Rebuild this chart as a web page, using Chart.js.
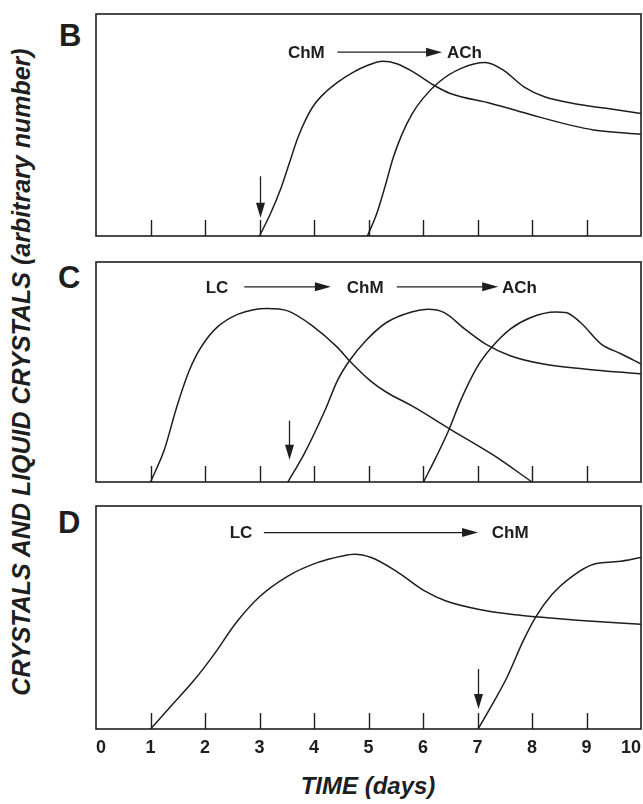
<!DOCTYPE html>
<html>
<head>
<meta charset="utf-8">
<title>Crystals and liquid crystals vs time</title>
<script src="https://cdn.jsdelivr.net/npm/chart.js@4.4.0/dist/chart.umd.min.js"></script>
<style>
  html, body { margin: 0; padding: 0; background: #fff; }
  body {
    width: 643px; height: 804px; position: relative; overflow: hidden;
    font-family: "Liberation Sans", Arial, sans-serif; color: #1e1e1e;
  }
  canvas { position: absolute; }
  .panel-label { position: absolute; font-weight: bold; font-size: 31px; line-height: 31px; }
  .y-title {
    position: absolute; left: 21px; top: 372px; white-space: nowrap;
    transform: translate(-50%, -50%) rotate(-90deg);
    font-weight: bold; font-style: italic; font-size: 25px;
  }
  .x-title {
    position: absolute; left: 368px; top: 786px; white-space: nowrap;
    transform: translate(-50%, -50%);
    font-weight: bold; font-style: italic; font-size: 24px;
  }
</style>
</head>
<body>
<div class="y-title">CRYSTALS AND LIQUID CRYSTALS (arbitrary number)</div>
<div class="panel-label" style="left:59px; top:20px;">B</div>
<div class="panel-label" style="left:58px; top:262px;">C</div>
<div class="panel-label" style="left:58px; top:507px;">D</div>
<canvas id="panelB" width="549" height="226" style="left:94px; top:12px;"></canvas>
<canvas id="panelC" width="549" height="224" style="left:94px; top:260px;"></canvas>
<canvas id="panelD" width="549" height="265" style="left:94px; top:504px;"></canvas>
<div class="x-title">TIME (days)</div>
<script>
// x axis
const dayTicks = [0, 1, 2, 3, 4, 5, 6, 7, 8, 9, 10];
const innerTicks = [1, 2, 3, 4, 5, 6, 7, 8, 9];

// Panel B: ChM -> ACh
const dayB_ChM = [3.0, 3.2, 3.4, 3.55, 3.7, 3.85, 4.0, 4.2, 4.45, 4.7, 5.0, 5.26, 5.52, 5.82, 6.2, 6.5, 7.25, 8.0, 8.76, 9.13, 10];
const valB_ChM = [0, 10, 22, 33, 44, 52.5, 59, 64.5, 69.5, 73.5, 77, 78.7, 77.6, 73.9, 67.9, 64.2, 59.7, 54.5, 49.6, 47.8, 45.8];
const dayB_ACh = [4.98, 5.15, 5.3, 5.45, 5.6, 5.8, 6.0, 6.3, 6.7, 7.14, 7.48, 7.85, 8.23, 8.76, 9.36, 10];
const valB_ACh = [0, 10, 22, 35, 45, 55, 62, 69.5, 75.5, 78.1, 74.6, 67.2, 62.7, 59.7, 57.5, 55.2];

// Panel C: LC -> ChM -> ACh
const dayC_LC = [1.0, 1.25, 1.48, 1.7, 1.85, 2.0, 2.23, 2.61, 3.14, 3.52, 3.97, 4.43, 4.65, 5.03, 5.33, 5.79, 6.54, 7.3, 8.0];
const valC_LC = [0, 14.4, 34.0, 50, 58, 64, 70.5, 76.3, 78.9, 77.8, 71.0, 61.2, 55.1, 46.1, 40.8, 34.7, 23.4, 12.1, 0];
const dayC_ChM = [3.52, 3.82, 4.2, 4.43, 4.65, 4.95, 5.33, 5.79, 6.09, 6.39, 6.77, 7.15, 7.6, 8.21, 8.96, 10];
const valC_ChM = [0, 12.8, 32.5, 46.1, 55.1, 64.2, 72.5, 77.3, 78.5, 77.0, 69.5, 62.7, 57.4, 53.6, 51.4, 49.1];
const dayC_ACh = [6.01, 6.24, 6.47, 6.69, 6.99, 7.26, 7.6, 7.98, 8.43, 8.62, 8.89, 9.27, 9.64, 10];
const valC_ACh = [0, 11.3, 23.4, 37.0, 52.1, 61.2, 69.5, 74.8, 77.3, 77.0, 72.5, 62.7, 58.2, 53.6];

// Panel D: LC -> ChM
const dayD_LC = [1.0, 1.41, 1.79, 2.17, 2.55, 3.0, 3.53, 4.06, 4.52, 4.74, 5.05, 5.5, 6.03, 6.41, 7.01, 7.69, 8.07, 8.83, 10];
const valD_LC = [0, 11.2, 21.6, 33.6, 47.0, 59.3, 68.7, 74.6, 77.6, 78.4, 76.9, 70.9, 61.9, 57.5, 53.7, 51.2, 50.3, 48.8, 47.0];
const dayD_ChM = [7.01, 7.24, 7.54, 7.84, 8.07, 8.37, 8.75, 9.13, 9.58, 10];
const valD_ChM = [0, 9.7, 23.1, 39.6, 50.3, 60.4, 68.7, 73.9, 75.1, 76.9];

// sequence labels and their anchors (day, value)
const seqB = ['ChM', 'ACh'];
const seqDaysB = [3.86, 6.76];
const seqLinksB = [[4.43, 6.35]];
const seqValB = 82.8;
const seqC = ['LC', 'ChM', 'ACh'];
const seqDaysC = [2.22, 4.94, 7.77];
const seqLinksC = [[2.72, 4.31], [5.52, 7.38]];
const seqValC = 88.7;
const seqD = ['LC', 'ChM'];
const seqDaysD = [2.66, 7.6];
const seqLinksD = [[3.08, 7.01]];
const seqValD = 88.1;

// vertical arrows: day, top value, tip value
const markB = [3.0, 26.9, 8.2];
const markC = [3.54, 27.9, 10.1];
const markD = [7.0, 26.9, 9.0];

const INK = '#1e1e1e';
const TEXT_FONT = 'bold 17px "Liberation Sans", Arial, sans-serif';

function toPoints(days, vals) {
  return days.map((d, i) => ({ x: d, y: vals[i] }));
}

function curve(days, vals) {
  return {
    data: toPoints(days, vals),
    borderColor: INK,
    borderWidth: 1.5,
    pointRadius: 0,
    fill: false,
    cubicInterpolationMode: 'monotone'
  };
}

function arrowHead(ctx, x, y, dx, dy, len, half) {
  // tip at (x, y), pointing along (dx, dy)
  ctx.beginPath();
  ctx.moveTo(x, y);
  ctx.lineTo(x - dx * len - dy * half, y - dy * len + dx * half);
  ctx.lineTo(x - dx * len + dy * half, y - dy * len - dx * half);
  ctx.closePath();
  ctx.fill();
}

function panelDecor(labels, labelDays, links, labelVal, mark) {
  return {
    id: 'panelDecor',
    afterDatasetsDraw(chart) {
      const { ctx, chartArea: a, scales: { x, y } } = chart;
      ctx.save();
      ctx.strokeStyle = INK;
      ctx.fillStyle = INK;

      // frame
      ctx.lineWidth = 1.6;
      ctx.strokeRect(a.left, a.top, a.right - a.left, a.bottom - a.top);

      // inward tick marks
      ctx.lineWidth = 1.4;
      innerTicks.forEach(d => {
        const px = Math.round(x.getPixelForValue(d)) + 0.5;
        ctx.beginPath();
        ctx.moveTo(px, a.bottom);
        ctx.lineTo(px, a.bottom - 16);
        ctx.stroke();
      });

      // sequence text
      ctx.font = TEXT_FONT;
      ctx.textAlign = 'center';
      ctx.textBaseline = 'middle';
      const ty = y.getPixelForValue(labelVal);
      labels.forEach((t, i) => ctx.fillText(t, x.getPixelForValue(labelDays[i]), ty + 1));

      // horizontal arrows between names
      ctx.lineWidth = 1.2;
      links.forEach(([d0, d1]) => {
        const x0 = x.getPixelForValue(d0), x1 = x.getPixelForValue(d1);
        ctx.beginPath();
        ctx.moveTo(x0, ty);
        ctx.lineTo(x1 - 12, ty);
        ctx.stroke();
        arrowHead(ctx, x1, ty, 1, 0, 16, 4.5);
      });

      // vertical arrow marking the time point
      const mx = Math.round(x.getPixelForValue(mark[0])) + 0.5;
      const my0 = y.getPixelForValue(mark[1]);
      const my1 = y.getPixelForValue(mark[2]);
      ctx.lineWidth = 1.3;
      ctx.beginPath();
      ctx.moveTo(mx, my0);
      ctx.lineTo(mx, my1 - 10);
      ctx.stroke();
      arrowHead(ctx, mx, my1, 0, 1, 15, 4.5);
      ctx.restore();
    }
  };
}

function makePanel(id, datasets, decor, showLabels) {
  const xScale = {
    type: 'linear',
    min: 0,
    max: 10,
    display: showLabels,
    grid: { display: false, drawTicks: false },
    border: { display: false },
    ticks: {
      stepSize: 1,
      align: 'inner',
      padding: 8,
      color: INK,
      font: { family: '"Liberation Sans", Arial, sans-serif', size: 18, weight: 'bold' },
      callback: (v) => dayTicks.includes(v) ? String(v) : ''
    }
  };
  if (showLabels) {
    xScale.afterFit = (s) => {
      s.height = 40;
      s.paddingLeft = 0;
      s.paddingRight = 0;
    };
  }
  return new Chart(document.getElementById(id), {
    type: 'line',
    data: { datasets },
    options: {
      responsive: false,
      animation: false,
      events: [],
      layout: { padding: { left: 2, right: 2, top: 2, bottom: showLabels ? 0 : 2 } },
      plugins: { legend: { display: false }, tooltip: { enabled: false } },
      scales: {
        x: xScale,
        y: { type: 'linear', min: 0, max: 100, display: false }
      }
    },
    plugins: [decor]
  });
}

makePanel('panelB',
  [curve(dayB_ChM, valB_ChM), curve(dayB_ACh, valB_ACh)],
  panelDecor(seqB, seqDaysB, seqLinksB, seqValB, markB), false);

makePanel('panelC',
  [curve(dayC_LC, valC_LC), curve(dayC_ChM, valC_ChM), curve(dayC_ACh, valC_ACh)],
  panelDecor(seqC, seqDaysC, seqLinksC, seqValC, markC), false);

makePanel('panelD',
  [curve(dayD_LC, valD_LC), curve(dayD_ChM, valD_ChM)],
  panelDecor(seqD, seqDaysD, seqLinksD, seqValD, markD), true);
</script>
</body>
</html>
